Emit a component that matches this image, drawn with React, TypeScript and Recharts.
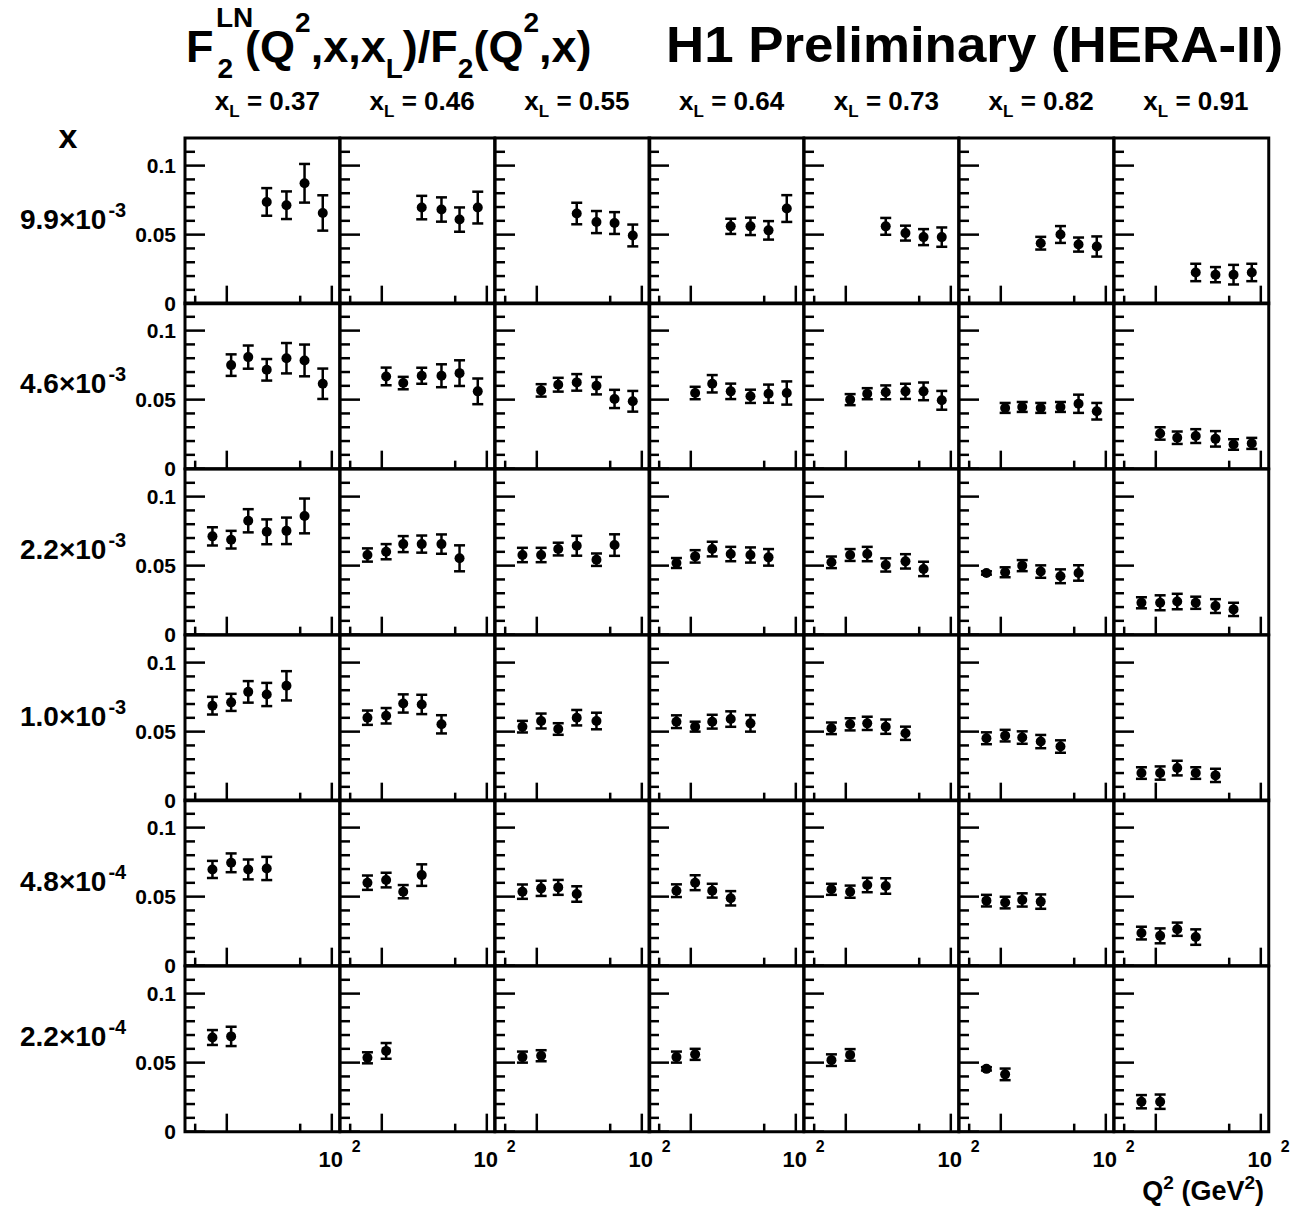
import React from 'react';
import { ScatterChart, Scatter, XAxis, YAxis, ErrorBar, ReferenceArea } from 'recharts';

// column bins (x_L) and row bins (Bjorken x)
const xLBins = ['0.37', '0.46', '0.55', '0.64', '0.73', '0.82', '0.91'];
const xMantissa = ['9.9', '4.6', '2.2', '1.0', '4.8', '2.2'];
const xExponent = ['-3', '-3', '-3', '-3', '-4', '-4'];

// Q2 points measured in each x row (GeV^2)
const q2Row1 = [24, 37, 55, 82];
const q2Row2 = [11, 16, 24, 37, 55, 82];
const q2Row3 = [7.3, 11, 16, 24, 37, 55];
const q2Row4 = [7.3, 11, 16, 24, 37];
const q2Row5 = [7.3, 11, 16, 24];
const q2Row6 = [7.3, 11];
const q2Bins = [q2Row1, q2Row2, q2Row3, q2Row4, q2Row5, q2Row6];

// F2^LN / F2, one list per x_L column
const ratioRow1 = [
  [0.0737, 0.0713, 0.0872, 0.0657],
  [0.0696, 0.0682, 0.0609, 0.0696],
  [0.0653, 0.0591, 0.0584, 0.0494],
  [0.056, 0.056, 0.0531, 0.0689],
  [0.056, 0.0511, 0.0482, 0.0482],
  [0.0438, 0.0501, 0.0428, 0.0414],
  [0.0226, 0.021, 0.021, 0.0226],
];
const errRow1 = [
  [0.01, 0.01, 0.014, 0.0128],
  [0.0085, 0.0088, 0.0088, 0.0115],
  [0.0078, 0.008, 0.0079, 0.0079],
  [0.0055, 0.0063, 0.0067, 0.0097],
  [0.0061, 0.0054, 0.0058, 0.007],
  [0.0046, 0.0061, 0.0051, 0.0073],
  [0.0063, 0.0055, 0.0071, 0.0063],
];

const ratioRow2 = [
  [0.075, 0.0808, 0.0716, 0.08, 0.0784, 0.0615],
  [0.0668, 0.062, 0.0673, 0.0673, 0.0692, 0.056],
  [0.0567, 0.0608, 0.0625, 0.0601, 0.0505, 0.0488],
  [0.0548, 0.0615, 0.056, 0.0524, 0.0543, 0.0548],
  [0.05, 0.0543, 0.0553, 0.056, 0.056, 0.0495],
  [0.044, 0.0447, 0.044, 0.0447, 0.047, 0.0416],
  [0.0255, 0.0224, 0.0236, 0.0216, 0.0175, 0.0183],
];
const errRow2 = [
  [0.0078, 0.0084, 0.0078, 0.011, 0.0115, 0.011],
  [0.0064, 0.0045, 0.0058, 0.0083, 0.0093, 0.0093],
  [0.0045, 0.005, 0.006, 0.0063, 0.0066, 0.0075],
  [0.0045, 0.0063, 0.0056, 0.0048, 0.0066, 0.0084],
  [0.004, 0.004, 0.005, 0.0055, 0.0064, 0.0068],
  [0.0036, 0.0036, 0.0036, 0.0036, 0.0066, 0.006],
  [0.0045, 0.0045, 0.005, 0.0056, 0.0038, 0.004],
];

const ratioRow3 = [
  [0.0712, 0.0688, 0.0825, 0.0745, 0.0752, 0.086],
  [0.0577, 0.0601, 0.0656, 0.0656, 0.0656, 0.0553],
  [0.0577, 0.0577, 0.062, 0.0644, 0.0543, 0.0649],
  [0.0519, 0.0567, 0.062, 0.0584, 0.0577, 0.056],
  [0.0524, 0.0577, 0.0584, 0.0505, 0.0531, 0.0476],
  [0.0447, 0.0452, 0.05, 0.0457, 0.0423, 0.0447],
  [0.0231, 0.0231, 0.024, 0.0231, 0.0207, 0.0183],
];
const errRow3 = [
  [0.0066, 0.0064, 0.0084, 0.009, 0.0096, 0.0126],
  [0.0048, 0.0055, 0.0058, 0.0062, 0.007, 0.0094],
  [0.0052, 0.0052, 0.0046, 0.0072, 0.0045, 0.0078],
  [0.0036, 0.0045, 0.0053, 0.0052, 0.0055, 0.006],
  [0.0042, 0.0043, 0.0052, 0.0048, 0.0052, 0.0052],
  [0.0012, 0.0036, 0.004, 0.0045, 0.005, 0.0056],
  [0.004, 0.0054, 0.0056, 0.0044, 0.005, 0.0048],
];

const ratioRow4 = [
  [0.0688, 0.0712, 0.0788, 0.0769, 0.0832],
  [0.0601, 0.0615, 0.0704, 0.0697, 0.0553],
  [0.0536, 0.0577, 0.0519, 0.0601, 0.0577],
  [0.0572, 0.0536, 0.0572, 0.0591, 0.056],
  [0.0524, 0.0553, 0.056, 0.0536, 0.0488],
  [0.0452, 0.0471, 0.0457, 0.0428, 0.0392],
  [0.02, 0.02, 0.0236, 0.02, 0.0183],
];
const errRow4 = [
  [0.0064, 0.0062, 0.0078, 0.0084, 0.0106],
  [0.0052, 0.0056, 0.0066, 0.007, 0.0066],
  [0.0042, 0.0054, 0.0042, 0.0056, 0.006],
  [0.0046, 0.0036, 0.005, 0.0056, 0.006],
  [0.0042, 0.0044, 0.0048, 0.0052, 0.0048],
  [0.0043, 0.0042, 0.0045, 0.0048, 0.0045],
  [0.0042, 0.0048, 0.0053, 0.0042, 0.0048],
];

const ratioRow5 = [
  [0.0697, 0.0745, 0.0697, 0.0704],
  [0.0601, 0.062, 0.0536, 0.0656],
  [0.0536, 0.056, 0.0567, 0.0519],
  [0.0543, 0.0601, 0.0543, 0.0488],
  [0.0553, 0.0536, 0.0584, 0.0577],
  [0.0471, 0.0457, 0.0476, 0.0464],
  [0.0236, 0.0216, 0.0264, 0.0207],
];
const errRow5 = [
  [0.0062, 0.0068, 0.0072, 0.0084],
  [0.0052, 0.0053, 0.0048, 0.0078],
  [0.0052, 0.0055, 0.0054, 0.0056],
  [0.0046, 0.0054, 0.005, 0.0052],
  [0.004, 0.0044, 0.0052, 0.0056],
  [0.0042, 0.0042, 0.0048, 0.0052],
  [0.0046, 0.0054, 0.0048, 0.0056],
];

const ratioRow6 = [
  [0.0682, 0.069],
  [0.0535, 0.0585],
  [0.054, 0.055],
  [0.054, 0.056],
  [0.0518, 0.0556],
  [0.0455, 0.0415],
  [0.0217, 0.0217],
];
const errRow6 = [
  [0.0054, 0.007],
  [0.004, 0.0057],
  [0.004, 0.004],
  [0.004, 0.004],
  [0.0042, 0.0042],
  [0.0012, 0.0042],
  [0.0048, 0.0052],
];

const ratios = [ratioRow1, ratioRow2, ratioRow3, ratioRow4, ratioRow5, ratioRow6];
const errors = [errRow1, errRow2, errRow3, errRow4, errRow5, errRow6];

// axes
const q2Domain = [4, 119];
const q2Ticks = [5, 10, 50, 100];
const q2MajorTicks = [10, 100];
const yDomain = [0, 0.12];
const yTicks = [0, 0.01, 0.02, 0.03, 0.04, 0.05, 0.06, 0.07, 0.08, 0.09, 0.1, 0.11];
const yMajorTicks = [0, 0.05, 0.1];
const yMajorLabels = ['0', '0.05', '0.1'];

// layout
const LEFT = 185;
const TOP = 137.7;
const PW = 154.75;
const PH = 165.67;
const PAD = 70;
const ROW_LABEL_DY = [91, 90, 90, 91, 91, 80];
const FONT = '"Liberation Sans", Arial, Helvetica, sans-serif';

function XTick(props: any) {
  const { x, y, payload, showLabel } = props;
  const major = q2MajorTicks.includes(payload.value);
  return (
    <g>
      <line x1={x} x2={x} y1={y} y2={y - (major ? 18 : 8)} stroke="#000" strokeWidth={2.5} />
      {showLabel && payload.value === 100 && (
        <g fontFamily={FONT} fontWeight="bold" fill="#000">
          <text x={x - 1} y={y + 35} fontSize={22} textAnchor="middle">10</text>
          <text x={x + 20} y={y + 20} fontSize={16}>2</text>
        </g>
      )}
    </g>
  );
}

function YTick(props: any) {
  const { x, y, payload, showLabel } = props;
  const idx = yMajorTicks.indexOf(payload.value);
  const major = idx >= 0;
  return (
    <g>
      <line x1={x} x2={x + (major ? 20 : 10)} y1={y} y2={y} stroke="#000" strokeWidth={2.5} />
      {showLabel && major && (
        <text x={x - 9} y={y + 7} fontSize={21} fontFamily={FONT} fontWeight="bold" textAnchor="end" fill="#000">
          {yMajorLabels[idx]}
        </text>
      )}
    </g>
  );
}

const dot = (p: any) => <circle cx={p.cx} cy={p.cy} r={5} fill="#000" />;

function Panel({ row, col }: { row: number; col: number }) {
  const data = q2Bins[row].map((q2, i) => ({
    q2,
    ratio: ratios[row][col][i],
    err: errors[row][col][i],
  }));
  return (
    <div style={{ position: 'absolute', left: LEFT + col * PW - PAD, top: TOP + row * PH - PAD }}>
      <ScatterChart
        width={PW + 2 * PAD}
        height={PH + 2 * PAD}
        margin={{ top: PAD, right: PAD, bottom: PAD - 20, left: PAD - 20 }}
      >
        <XAxis
          type="number"
          dataKey="q2"
          scale="log"
          domain={q2Domain}
          allowDataOverflow
          ticks={q2Ticks}
          interval={0}
          height={20}
          axisLine={false}
          tickLine={false}
          tickSize={0}
          tickMargin={0}
          tick={(p: any) => <XTick {...p} showLabel={row === 5} />}
        />
        <YAxis
          type="number"
          dataKey="ratio"
          domain={yDomain}
          allowDataOverflow
          ticks={yTicks}
          interval={0}
          width={20}
          axisLine={false}
          tickLine={false}
          tickSize={0}
          tickMargin={0}
          tick={(p: any) => <YTick {...p} showLabel={col === 0} />}
        />
        <ReferenceArea
          x1={q2Domain[0]}
          x2={q2Domain[1]}
          y1={yDomain[0]}
          y2={yDomain[1]}
          fill="none"
          fillOpacity={0}
          stroke="#000"
          strokeWidth={3}
          ifOverflow="visible"
        />
        <Scatter data={data} isAnimationActive={false} shape={dot}>
          <ErrorBar dataKey="err" direction="y" width={5.5} stroke="#000" strokeWidth={2.5} />
        </Scatter>
      </ScatterChart>
    </div>
  );
}

export default function App() {
  return (
    <div style={{ position: 'absolute', left: 0, top: 0, width: 1293, height: 1207, background: '#fff' }}>
      {xMantissa.map((_, r) => xLBins.map((_, c) => <Panel key={`${r}-${c}`} row={r} col={c} />))}
      <svg
        width={1293}
        height={1207}
        style={{ position: 'absolute', left: 0, top: 0, pointerEvents: 'none' }}
        fontFamily={FONT}
        fontWeight="bold"
        fill="#000"
      >
        {/* title */}
        <text x={186} y={62} fontSize={45}>
          F
          <tspan dx={4} dy={16} fontSize={28}>2</tspan>
          <tspan dx={12} dy={-16} fontSize={45}>(Q</tspan>
          <tspan dy={-30} fontSize={28}>2</tspan>
          <tspan dy={30} fontSize={45}>,x,x</tspan>
          <tspan dy={16} fontSize={28}>L</tspan>
          <tspan dy={-16} fontSize={45}>)/F</tspan>
          <tspan dy={16} fontSize={28}>2</tspan>
          <tspan dy={-16} fontSize={45}>(Q</tspan>
          <tspan dy={-30} fontSize={28}>2</tspan>
          <tspan dy={30} fontSize={45}>,x)</tspan>
        </text>
        <text x={216} y={27} fontSize={28}>LN</text>
        <text x={666} y={62} fontSize={50} textLength={617} lengthAdjust="spacingAndGlyphs">
          H1 Preliminary (HERA-II)
        </text>

        {/* column headers */}
        {xLBins.map((v, c) => (
          <text key={v + c} x={LEFT + (c + 0.5) * PW + 5} y={110} fontSize={26} textAnchor="middle">
            x<tspan dy={7} fontSize={17}>L</tspan>
            <tspan dy={-7}> = {v}</tspan>
          </text>
        ))}

        {/* row labels */}
        <text x={68} y={148} fontSize={34} textAnchor="middle">x</text>
        {xMantissa.map((m, r) => (
          <text key={m + r} x={20} y={TOP + r * PH + ROW_LABEL_DY[r]} fontSize={28}>
            {m}×10<tspan dx={2} dy={-12} fontSize={20}>{xExponent[r]}</tspan>
          </text>
        ))}

        {/* x axis title */}
        <text x={1264} y={1200} fontSize={27} textAnchor="end">
          Q<tspan dy={-11} fontSize={19}>2</tspan>
          <tspan dy={11}> (GeV</tspan>
          <tspan dy={-11} fontSize={19}>2</tspan>
          <tspan dy={11}>)</tspan>
        </text>
      </svg>
    </div>
  );
}
